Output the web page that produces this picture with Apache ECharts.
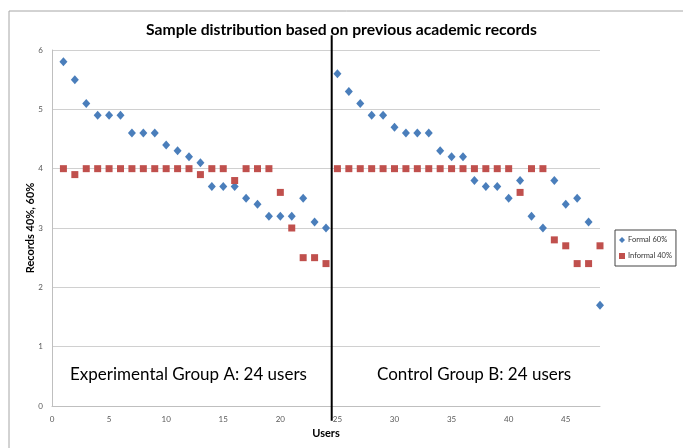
<!DOCTYPE html>
<html>
<head>
<meta charset="utf-8">
<script src="https://cdn.jsdelivr.net/npm/echarts@6/dist/echarts.min.js"></script>
<style>
html,body{margin:0;padding:0;background:#fff;}
#chart{width:683px;height:448px;}
</style>
</head>
<body>
<div id="chart"></div>
<script>
// Users 1..48
const users = [1,2,3,4,5,6,7,8,9,10,11,12,13,14,15,16,17,18,19,20,21,22,23,24,
               25,26,27,28,29,30,31,32,33,34,35,36,37,38,39,40,41,42,43,44,45,46,47,48];
const formal60 = [5.8,5.5,5.1,4.9,4.9,4.9,4.6,4.6,4.6,4.4,4.3,4.2,4.1,3.7,3.7,3.7,3.5,3.4,3.2,3.2,3.2,3.5,3.1,3.0,
                  5.6,5.3,5.1,4.9,4.9,4.7,4.6,4.6,4.6,4.3,4.2,4.2,3.8,3.7,3.7,3.5,3.8,3.2,3.0,3.8,3.4,3.5,3.1,1.7];
const informal40 = [4.0,3.9,4.0,4.0,4.0,4.0,4.0,4.0,4.0,4.0,4.0,4.0,3.9,4.0,4.0,3.8,4.0,4.0,4.0,3.6,3.0,2.5,2.5,2.4,
                    4.0,4.0,4.0,4.0,4.0,4.0,4.0,4.0,4.0,4.0,4.0,4.0,4.0,4.0,4.0,4.0,3.6,4.0,4.0,2.8,2.7,2.4,2.4,2.7];
const seriesNames = ['Formal 60%','Informal 40%'];
const groupSplit = 24.5;
const splitLineY = [-0.25, 6.25];
const titleText = 'Sample distribution based on previous academic records';
const groupLabels = ['Experimental Group A: 24 users','Control Group B: 24 users'];

const chart = echarts.init(document.getElementById('chart'));
const font = 'Lato, "Open Sans", sans-serif';
chart.setOption({
  animation:false,
  backgroundColor:'#fff',
  title:{text:titleText,left:'center',top:17,
    textStyle:{fontFamily:font,fontSize:15.7,fontWeight:'bold',color:'#000'}},
  grid:{left:52,right:83,top:50,bottom:42},
  legend:{
    orient:'vertical',left:615,top:230,
    data:[{name:seriesNames[0],icon:'diamond'},{name:seriesNames[1],icon:'rect'}],
    itemWidth:6,itemHeight:6,itemGap:8,
    borderColor:'#444',borderWidth:1,padding:[6,4,6,4],
    textStyle:{fontFamily:font,fontSize:7.5,color:'#333',padding:[0,0,0,-2]}
  },
  xAxis:{type:'value',min:0,max:48,interval:5,
    name:'Users',nameLocation:'middle',nameGap:21,
    nameTextStyle:{fontFamily:font,fontSize:11,fontWeight:'bold',color:'#000'},
    axisLine:{lineStyle:{color:'#bfbfbf'}},axisTick:{show:false},splitLine:{show:false},
    axisLabel:{showMaxLabel:false,fontFamily:font,fontSize:8,color:'#595959',margin:9}},
  yAxis:{type:'value',min:0,max:6,interval:1,
    name:'Records 40%, 60%',nameLocation:'middle',nameGap:16,nameMoveOverlap:false,
    nameTextStyle:{fontFamily:font,fontSize:11,fontWeight:'bold',color:'#000'},
    axisLine:{show:true,lineStyle:{color:'#bfbfbf'}},axisTick:{show:false},
    splitLine:{lineStyle:{color:'#d0d0d0'}},
    axisLabel:{fontFamily:font,fontSize:8,color:'#595959',margin:9}},
  graphic:[
    {type:'rect',shape:{x:9,y:11,width:700,height:460},style:{fill:null,stroke:'#a6a6a6',lineWidth:1},z:-1},
    {type:'text',left:70,top:366,style:{text:groupLabels[0],font:'17px '+font,fill:'#000'}},
    {type:'text',left:377,top:366,style:{text:groupLabels[1],font:'17px '+font,fill:'#000'}}
  ],
  series:[
    {name:'divider',type:'line',clip:false,symbol:'none',silent:true,
      lineStyle:{color:'#000',width:2},z:1,
      data:splitLineY.map(y=>[groupSplit,y])},
    {name:seriesNames[0],type:'scatter',symbol:'diamond',symbolSize:[8,9],
      itemStyle:{color:'#4a7ebb',opacity:1},z:3,
      data:users.map((u,i)=>[u,formal60[i]])},
    {name:seriesNames[1],type:'scatter',symbol:'rect',symbolSize:7,
      itemStyle:{color:'#c0504d',opacity:1},z:3,
      data:users.map((u,i)=>[u,informal40[i]])}
  ]
});
</script>
</body>
</html>
